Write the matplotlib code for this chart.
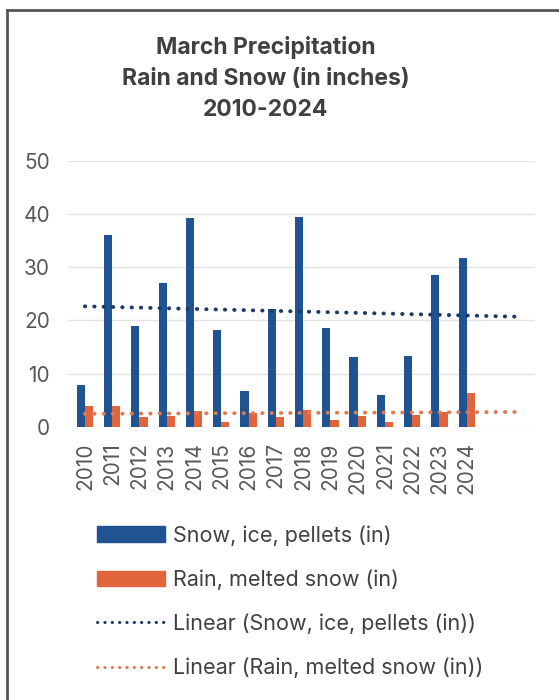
import numpy as np
import matplotlib.pyplot as plt
from matplotlib.patches import Patch
from matplotlib.lines import Line2D

years = [str(y) for y in range(2010, 2025)]
snow = [7.8, 36.1, 18.9, 27.0, 39.2, 18.3, 6.8, 22.1, 39.5, 18.5, 13.1, 6.1, 13.3, 28.6, 31.7]
rain = [4.0, 4.0, 1.9, 2.0, 3.0, 1.0, 2.6, 1.9, 3.1, 1.3, 2.1, 1.0, 2.3, 2.8, 6.4]

SNOW_COLOR = "#1f5391"
RAIN_COLOR = "#e0653a"
SNOW_TREND = "#1d3a66"
RAIN_TREND = "#e07a50"
TEXT = "#595959"

plt.rcParams['font.family'] = ['Inter', 'DejaVu Sans']

fig = plt.figure(figsize=(5.59, 7.0), dpi=100)
ax = fig.add_axes([0.1216, 0.39, 0.8354, 0.3804])

x = np.arange(len(years))
w = 0.3
ax.bar(x - w / 2, snow, w, color=SNOW_COLOR, zorder=3)
ax.bar(x + w / 2, rain, w, color=RAIN_COLOR, zorder=3)

# linear trendlines, carried past the last year like the spreadsheet does
xt = np.linspace(0, 16, 50)
dots = (0, (0.1, 2.3))
for vals, col in [(snow, SNOW_TREND), (rain, RAIN_TREND)]:
    k, b = np.polyfit(x, vals, 1)
    ax.plot(xt, k * xt + b, color=col, lw=2.8, linestyle=dots,
            dash_capstyle='round', zorder=4)

ax.set_xlim(-0.62, 16.5)
ax.set_ylim(0, 50)
ax.set_yticks(range(0, 51, 10))
ax.set_xticks(x)
ax.set_xticklabels(years, rotation=90)
ax.tick_params(axis='both', length=0, labelsize=15, colors=TEXT)
ax.tick_params(axis='y', pad=13)
ax.tick_params(axis='x', pad=11)
ax.grid(axis='y', color='#e3e3e3', lw=1, zorder=0)
for s in ax.spines.values():
    s.set_visible(False)

fig.text(0.475, 0.949, "March Precipitation\nRain and Snow (in inches)\n2010-2024",
         ha='center', va='top', fontsize=16.5, fontweight='bold',
         color='#404040', linespacing=1.55)

handles = [
    Patch(color=SNOW_COLOR),
    Patch(color=RAIN_COLOR),
    Line2D([], [], color=SNOW_TREND, lw=2.2, linestyle=dots, dash_capstyle='round'),
    Line2D([], [], color=RAIN_TREND, lw=2.2, linestyle=dots, dash_capstyle='round'),
]
labels = ["Snow, ice, pellets (in)", "Rain, melted snow (in)",
          "Linear (Snow, ice, pellets (in))", "Linear (Rain, melted snow (in))"]
leg = fig.legend(handles, labels, loc='upper left', bbox_to_anchor=(0.1735, 0.25),
                 frameon=False, fontsize=15.5, handlelength=3.15, handleheight=0.7,
                 handletextpad=0.37, labelspacing=1.1, borderpad=0,
                 borderaxespad=0)
for t in leg.get_texts():
    t.set_color('#404040')

# frame lines on the left and top edges
fig.add_artist(Line2D([0.012, 0.012], [0.0, 0.986], color='#555555', lw=2,
                      transform=fig.transFigure))
fig.add_artist(Line2D([0.012, 1.0], [0.986, 0.986], color='#555555', lw=2,
                      transform=fig.transFigure))

fig.savefig("out.png", dpi=100, facecolor='white')
